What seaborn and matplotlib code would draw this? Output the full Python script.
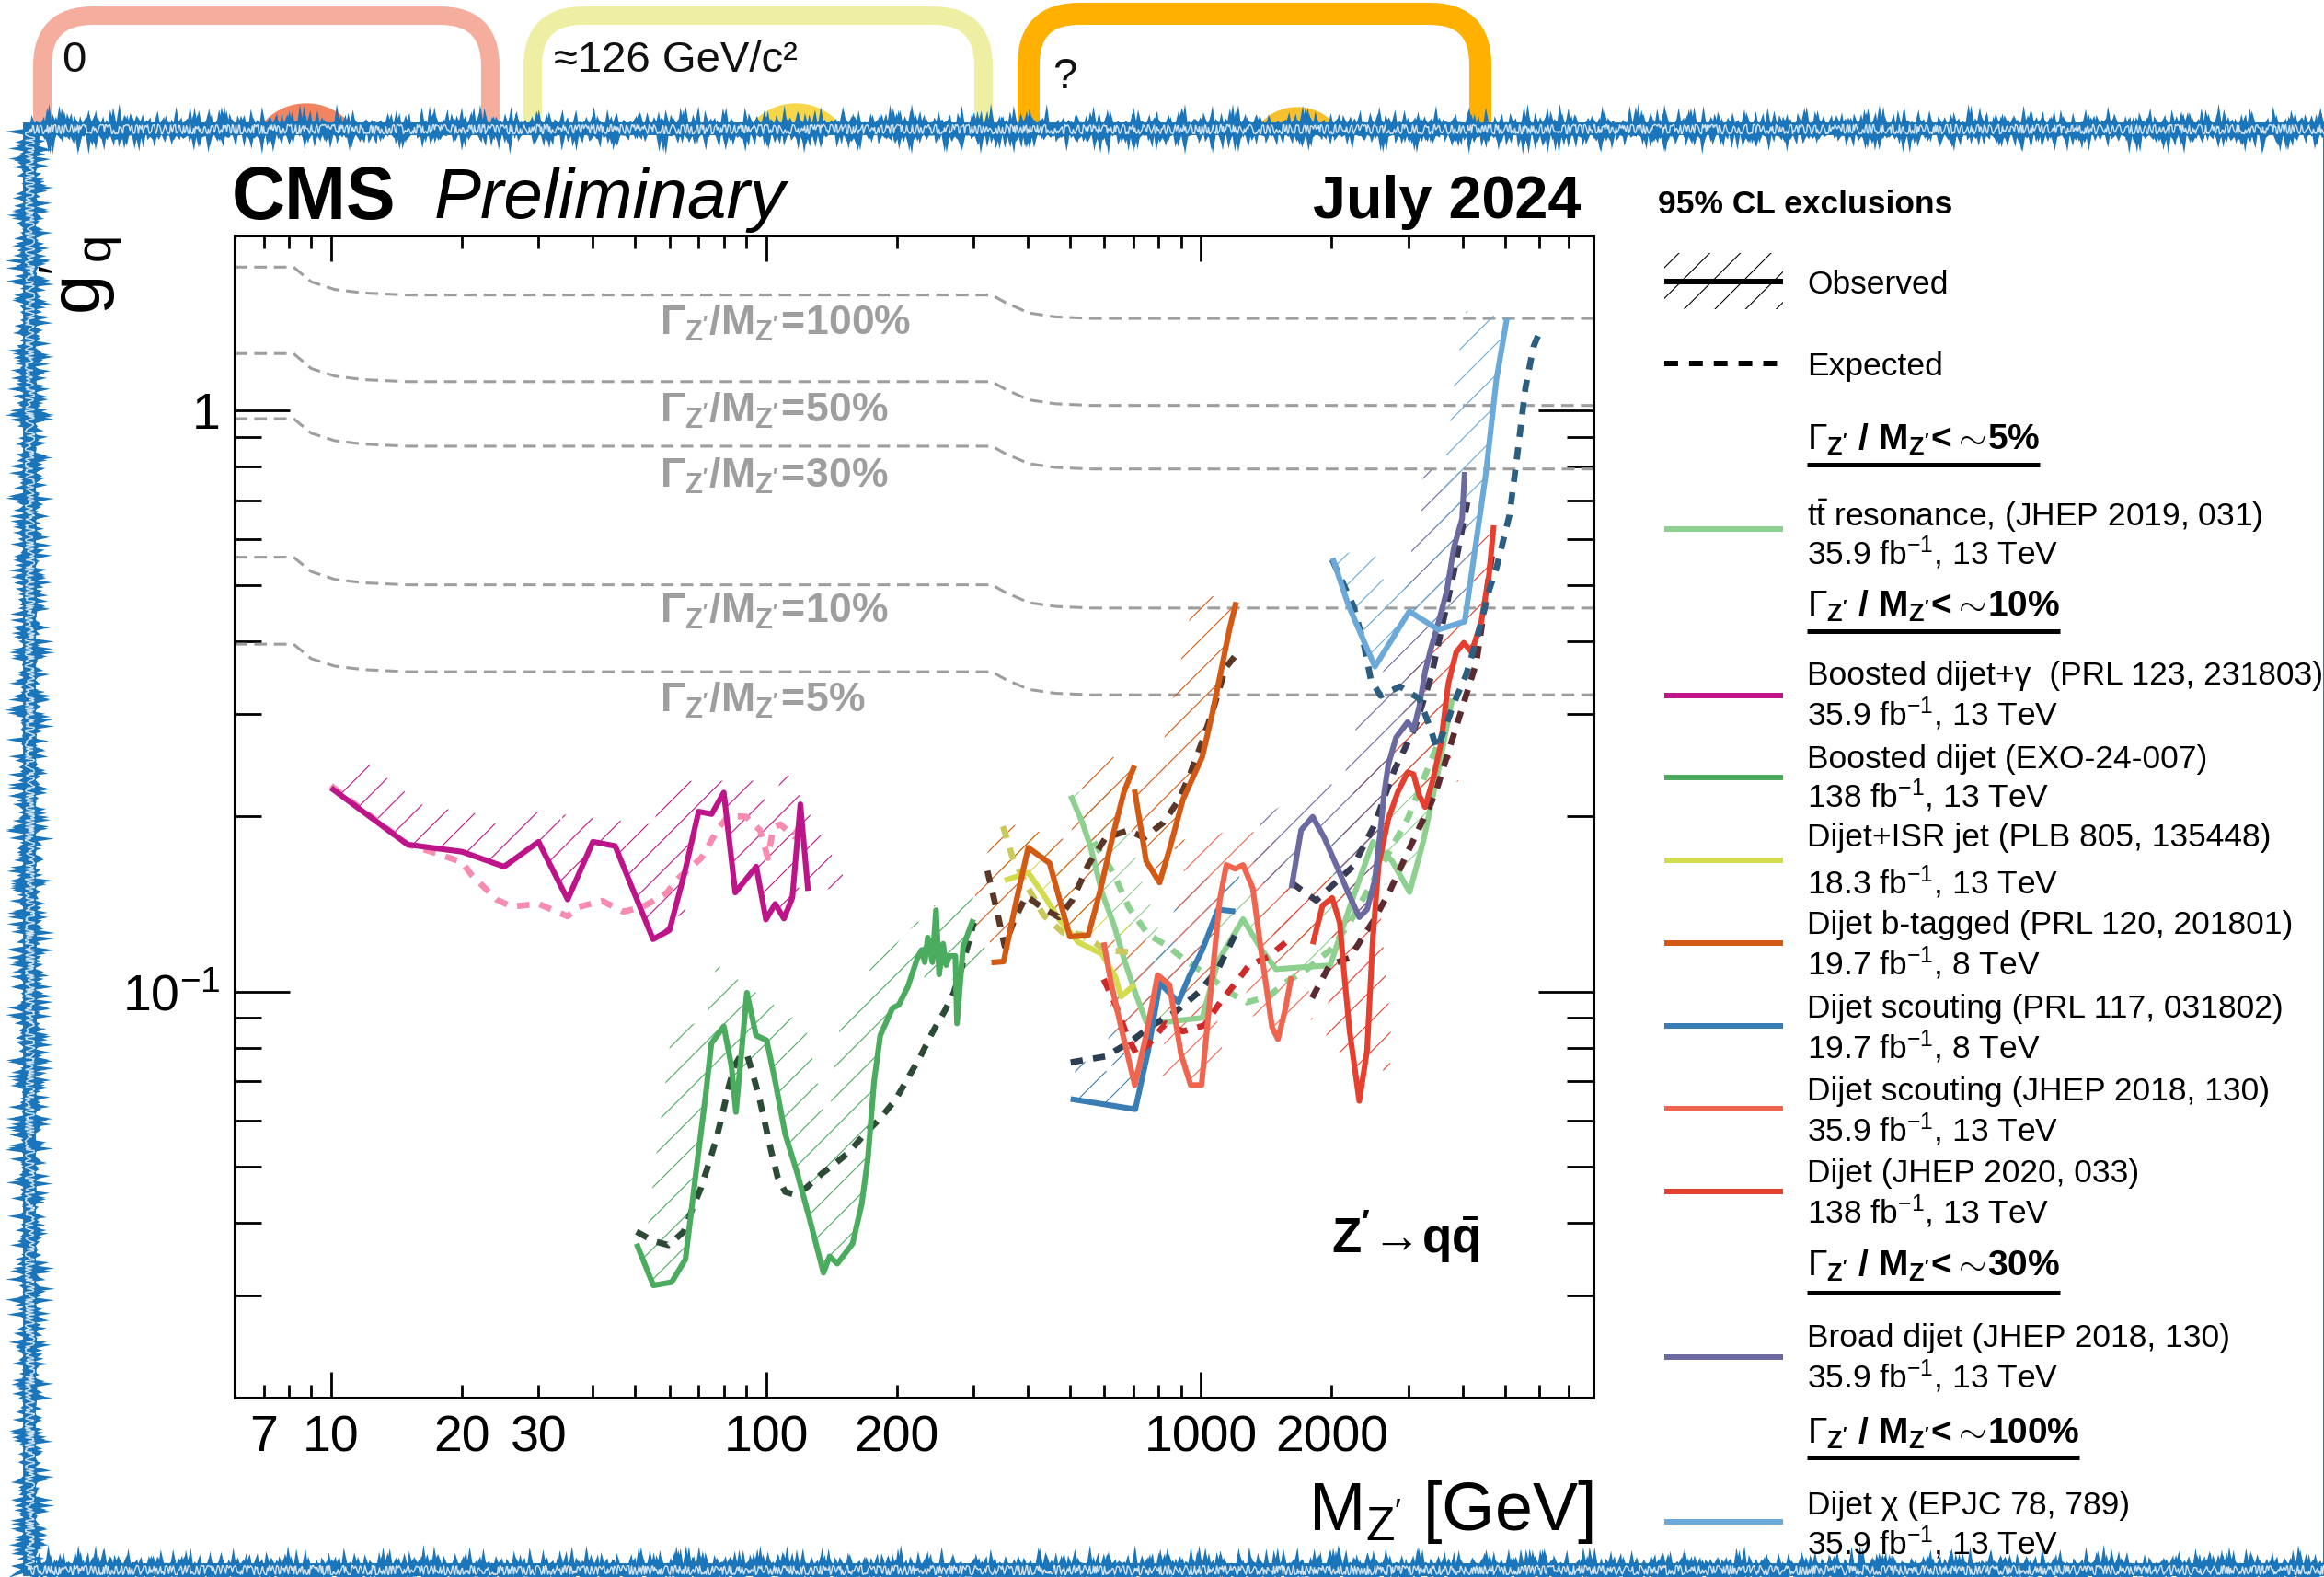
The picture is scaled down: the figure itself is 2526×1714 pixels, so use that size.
import numpy as np
import matplotlib
matplotlib.use("Agg")
import matplotlib.pyplot as plt
import matplotlib.ticker as mticker
from matplotlib.patches import Polygon, Rectangle, FancyBboxPatch, Circle
from matplotlib.transforms import IdentityTransform
import seaborn as sns

sns.set_theme(style="white", rc={"axes.edgecolor": "black", "text.color": "black",
                                 "xtick.color": "black", "ytick.color": "black"})
plt.rcParams["font.family"] = ["Liberation Sans", "DejaVu Sans"]
plt.rcParams["mathtext.fontset"] = "custom"
plt.rcParams["mathtext.rm"] = "Liberation Sans"
plt.rcParams["mathtext.it"] = "Liberation Sans:italic"
plt.rcParams["mathtext.bf"] = "Liberation Sans:bold"
plt.rcParams["hatch.linewidth"] = 0.8

# ---- data (M in GeV, g'_q) ----
width_mass = [6, 8.2, 9.0, 10.2, 11.9, 15, 331, 354, 402, 462, 560, 8000]
width_100 = [1.765, 1.765, 1.665, 1.615, 1.593, 1.58, 1.58, 1.536, 1.472, 1.449, 1.44, 1.44]
width_50 = [1.253, 1.253, 1.181, 1.146, 1.130, 1.121, 1.121, 1.089, 1.043, 1.027, 1.02, 1.02]
width_30 = [0.968, 0.968, 0.914, 0.887, 0.875, 0.868, 0.868, 0.844, 0.810, 0.798, 0.793, 0.793]
width_10 = [0.559, 0.559, 0.528, 0.512, 0.505, 0.501, 0.501, 0.487, 0.467, 0.460, 0.457, 0.457]
width_5 = [0.396, 0.396, 0.374, 0.363, 0.358, 0.355, 0.355, 0.345, 0.331, 0.326, 0.324, 0.324]
width_names = ["100%", "50%", "30%", "10%", "5%"]
width_label_g = [1.413, 1.0, 0.772, 0.4505, 0.3165]

gamma_obs_m = [10, 15, 20, 25, 30, 35, 40, 45, 55, 60, 65, 70, 75, 80, 85, 95, 100, 105, 110, 115, 120, 125]
gamma_obs_g = [0.224, 0.179, 0.174, 0.164, 0.181, 0.144, 0.181, 0.178, 0.123, 0.1275, 0.160, 0.204, 0.202,
               0.220, 0.148, 0.164, 0.133, 0.1415, 0.1335, 0.145, 0.210, 0.149]
gamma_exp_m = [10, 15, 17, 20, 21, 24, 26, 30, 35, 37, 42, 47, 52, 59, 63, 71, 78, 82, 90, 97, 101, 104,
               108, 116, 121]
gamma_exp_g = [0.226, 0.179, 0.174, 0.167, 0.159, 0.144, 0.140, 0.1415, 0.1347, 0.1397, 0.1432, 0.1372,
               0.1397, 0.1476, 0.1568, 0.1697, 0.1915, 0.2006, 0.1999, 0.1893, 0.1697, 0.1915, 0.1939,
               0.1847, 0.1963]

boosted_obs_m = [50.4, 55.1, 60.7, 65.3, 69.7, 72.6, 74.9, 80.0, 83.3, 85.3, 87.9, 90.4, 94.9, 100.4, 105.4,
                 110.7, 118.1, 126.1, 135.6, 140.1, 145.9, 158.2, 166.1, 171.6, 177.3, 183.2, 195.4, 202,
                 212, 222.6, 228.1, 231.8, 235.6, 241.4, 246.1, 250.2, 255.5, 259.7, 264.1, 272.7, 275,
                 284, 299.7]
boosted_obs_g = [0.0368, 0.0312, 0.0316, 0.0346, 0.0517, 0.0659, 0.0814, 0.0871, 0.0744, 0.0620, 0.0790,
                 0.0995, 0.0840, 0.0824, 0.0691, 0.0569, 0.0486, 0.0405, 0.0328, 0.0350, 0.0340, 0.0368,
                 0.0431, 0.0517, 0.0700, 0.0840, 0.0936, 0.0948, 0.1019, 0.1137, 0.1179, 0.1123, 0.1238,
                 0.1123, 0.138, 0.107, 0.1208, 0.111, 0.1151, 0.1151, 0.0881, 0.1193, 0.1331]
boosted_exp_m = [50.4, 55.1, 59.7, 64.7, 67.5, 70.8, 73.8, 76.8, 79.3, 82.0, 84.6, 87.5, 90.4, 92.6, 96.4,
                 99.6, 102.9, 106.3, 110.7, 116.2, 124.1, 134.5, 143.5, 155.7, 168.9, 183.2, 198.6, 212,
                 226.2, 241.4, 257.6, 270.4, 281.6, 293.3, 300.6]
boosted_exp_g = [0.0386, 0.0372, 0.0366, 0.0386, 0.0420, 0.0458, 0.0504, 0.0556, 0.0612, 0.0683, 0.0744,
                 0.0776, 0.0780, 0.0735, 0.0659, 0.0591, 0.0530, 0.0480, 0.0452, 0.0447, 0.0460, 0.0486,
                 0.0504, 0.0530, 0.0569, 0.0605, 0.0651, 0.0709, 0.0771, 0.0850, 0.0925, 0.0995, 0.1096,
                 0.1223, 0.1315]

isr_obs_m = [354, 401, 431, 472, 523, 592, 636, 656, 704]
isr_obs_g = [0.1553, 0.1601, 0.1483, 0.1332, 0.1215, 0.1161, 0.1059, 0.098, 0.1027]
isr_exp_m = [351, 369, 401, 435, 482, 534, 604, 683]
isr_exp_g = [0.1924, 0.1702, 0.1506, 0.1353, 0.1263, 0.1253, 0.1179, 0.1169]

btag_obs_m_low = [330, 352, 377, 401, 449, 500, 551, 586, 629, 666, 704]
btag_obs_g_low = [0.1122, 0.1126, 0.1438, 0.1768, 0.1663, 0.1243, 0.1249, 0.1483, 0.1866, 0.2208, 0.2447]
btag_obs_m_high = [704, 749, 804, 847, 910, 1008, 1062, 1117, 1164, 1206]
btag_obs_g_high = [0.2226, 0.1676, 0.154, 0.1755, 0.2141, 0.2534, 0.300, 0.3604, 0.4201, 0.4679]
btag_exp_m = [323, 340, 354, 373, 397, 431, 472, 507, 551, 604, 683, 741, 821, 892, 948, 1008, 1073, 1140, 1213]
btag_exp_g = [0.1613, 0.1373, 0.1197, 0.1332, 0.146, 0.1395, 0.1342, 0.1438, 0.1651, 0.1838, 0.1895,
              0.1838, 0.1954, 0.2141, 0.2384, 0.2695, 0.3093, 0.3604, 0.382]

tt_obs_m = [502, 534, 557, 592, 629, 669, 712, 749, 839, 1008, 1095, 1251, 1372, 1489, 1684, 1984, 2199,
            2487, 2756, 3021, 3246, 3525, 3786]
tt_obs_g = [0.2175, 0.1954, 0.1781, 0.1483, 0.1312, 0.1126, 0.098, 0.0887, 0.0887, 0.0901, 0.1126, 0.1332,
            0.1188, 0.1092, 0.110, 0.1109, 0.1395, 0.1809, 0.1676, 0.1483, 0.1809, 0.2421, 0.319]
tt_exp_m = [568, 629, 683, 757, 839, 929, 1051, 1164, 1276, 1429, 1584, 1755, 1984, 2199, 2437, 2700, 2991,
            3383, 3749]
tt_exp_g = [0.1809, 0.1601, 0.1395, 0.1253, 0.1197, 0.1126, 0.1059, 0.0996, 0.0958, 0.098, 0.1042, 0.1092,
            0.1179, 0.1312, 0.1506, 0.1728, 0.1983, 0.2495, 0.300]

sc8_obs_m = [502, 707, 757, 805, 888, 939, 1008, 1095, 1200]
sc8_obs_g = [0.0653, 0.0627, 0.0791, 0.1034, 0.0958, 0.1059, 0.1179, 0.1384, 0.1373]
sc8_exp_m = [502, 604, 683, 774, 874, 988, 1095, 1200]
sc8_exp_g = [0.0755, 0.0773, 0.0816, 0.0874, 0.0922, 0.0996, 0.1092, 0.1253]

sc13_obs_m = [598, 623, 656, 705, 749, 796, 847, 901, 948, 1004, 1051, 1106, 1145, 1200, 1251, 1317, 1372,
              1459, 1505, 1567, 1616]
sc13_obs_g = [0.1215, 0.1027, 0.0867, 0.0690, 0.0841, 0.1067, 0.1027, 0.0779, 0.0690, 0.0690, 0.098,
              0.1438, 0.1651, 0.1626, 0.1651, 0.1506, 0.1197, 0.0867, 0.0828, 0.0937, 0.1062]
sc13_exp_m = [598, 636, 676, 712, 757, 830, 910, 1019, 1117, 1213, 1290, 1429, 1567]
sc13_exp_g = [0.105, 0.0951, 0.0841, 0.0779, 0.0810, 0.0881, 0.0854, 0.0874, 0.0966, 0.1042, 0.1109,
              0.1147, 0.1215]

dijet_obs_m = [1809, 1905, 2005, 2088, 2132, 2199, 2315, 2412, 2487, 2564, 2700, 2841, 2991, 3084, 3180,
               3280, 3418, 3561, 3710, 3866, 4026, 4195, 4417, 4601, 4717]
dijet_obs_g = [0.1206, 0.1405, 0.1449, 0.1312, 0.1092, 0.0854, 0.0648, 0.0791, 0.1234, 0.1651, 0.1983,
               0.2208, 0.2384, 0.2366, 0.2175, 0.2077, 0.2312, 0.2655, 0.3391, 0.3834, 0.3983, 0.3834,
               0.4332, 0.5206, 0.6343]
dijet_exp_m = [1803, 1978, 2199, 2499, 2716, 2973, 3462, 3860, 4304, 4687]
dijet_exp_g = [0.0975, 0.111, 0.1143, 0.1326, 0.1485, 0.172, 0.2189, 0.2841, 0.3684, 0.5707]

broad_obs_m = [1616, 1701, 1809, 1924, 2067, 2199, 2315, 2412, 2512, 2590, 2643, 2700, 2812, 2991, 3084,
               3180, 3280, 3383, 3525, 3681, 3819, 3990, 4045]
broad_obs_g = [0.1506, 0.1895, 0.1999, 0.1838, 0.1626, 0.146, 0.1342, 0.1384, 0.1553, 0.1895, 0.2208,
               0.2458, 0.2736, 0.2909, 0.2821, 0.3093, 0.3551, 0.3893, 0.4332, 0.4898, 0.5802, 0.651, 0.7835]
broad_exp_m = [1617, 1842, 2240, 2499, 2786, 3105, 3388, 3819, 4102]
broad_exp_g = [0.1539, 0.1434, 0.1642, 0.1923, 0.2402, 0.2841, 0.3484, 0.5269, 0.695]

chi_obs_m = [2010, 2185, 2514, 3017, 3516, 4045, 4524, 4784, 5059]
chi_obs_g = [0.557, 0.4623, 0.3622, 0.451, 0.4195, 0.4331, 0.7773, 1.13, 1.442]
chi_exp_m = [2005, 2244, 2362, 2461, 2590, 2871, 3180, 3383, 3488, 3635, 3826, 4069, 4328, 4601, 4784,
             5129, 5349, 5580, 5820, 6033]
chi_exp_g = [0.5536, 0.4607, 0.4013, 0.3443, 0.3228, 0.3349, 0.319, 0.2821, 0.2614, 0.2821, 0.3142,
             0.3497, 0.4075, 0.4898, 0.5349, 0.6609, 0.8431, 1.094, 1.286, 1.373]

xtick_labels = [7, 10, 20, 30, 100, 200, 1000, 2000]
ytick_labels = {1.0: "1", 0.1: r"$10^{-1}$"}

# ---- figure / layers (pixel coordinates for decoration) ----
W, H = 2526, 1714
fig = plt.figure(figsize=(W / 100, H / 100), dpi=100)
bg = fig.add_axes([0, 0, 1, 1], zorder=0)
bg.set_xlim(0, W)
bg.set_ylim(H, 0)
bg.axis("off")

card_left = [46, 579, 1118]
card_right = [533, 1069, 1609]
card_top = [17, 17, 15]
card_colors = ["#F5AE9E", "#EFEFA4", "#FFB000"]
card_lw = [14.4, 14.4, 17.3]
card_text = ["0", "≈126 GeV/c²", "?"]
card_text_xy = [(67, 66), (602, 66), (1144, 84)]
bump_xy = [(333, 175), (865, 175), (1410, 171)]
bump_r = [62, 62, 54]
bump_colors = ["#F2845F", "#F7D64A", "#F6C02E"]
for i in range(3):
    bg.add_patch(FancyBboxPatch((card_left[i], card_top[i]), card_right[i] - card_left[i], 400,
                                boxstyle="round,pad=0,rounding_size=55", fill=False,
                                edgecolor=card_colors[i], lw=card_lw[i], zorder=1))
    bg.add_patch(Circle(bump_xy[i], bump_r[i], color=bump_colors[i], zorder=1))
    bg.text(card_text_xy[i][0], card_text_xy[i][1], card_text[i], fontsize=34, va="center", ha="left",
            color="#111111", zorder=1)

# white panel with a rough brush-like blue frame
blue = "#1B75BB"
bg.add_patch(Rectangle((32, 140), 2500, 1566, facecolor="white", edgecolor=blue, lw=10, zorder=3))
rough = Rectangle((32, 140), 2500, 1566, facecolor="none", edgecolor=blue, lw=5, zorder=3)
rough.set_sketch_params(scale=4, length=3, randomness=3)
bg.add_patch(rough)
rough2 = Rectangle((32, 140), 2500, 1566, facecolor="none", edgecolor="white", lw=1.0, alpha=0.8, zorder=3)
rough2.set_sketch_params(scale=5, length=4, randomness=5)
bg.add_patch(rough2)

# ---- main plot ----
ax = fig.add_axes([255 / W, 1 - 1519 / H, (1732 - 255) / W, (1519 - 256) / H], zorder=2)
ax.set_facecolor("none")
ax.set_xscale("log")
ax.set_yscale("log")
ax.set_xlim(6, 8000)
ax.set_ylim(0.02, 2)


def hatch_band(xs, ys, color, width=45):
    pts = ax.transData.transform(np.column_stack([xs, ys]))
    d = np.gradient(pts, axis=0)
    d = d / np.hypot(d[:, 0], d[:, 1])[:, None]
    normal = np.column_stack([-d[:, 1], d[:, 0]])
    outer = pts + width * normal
    poly = Polygon(np.vstack([pts, outer[::-1]]), closed=True, transform=IdentityTransform(),
                   facecolor="none", edgecolor=color, hatch="/", lw=0, zorder=2)
    ax.add_patch(poly)


def curve(xs, ys, color, dashed=False):
    sns.lineplot(x=xs, y=ys, ax=ax, sort=False, estimator=None, color=color,
                 lw=4.8 if dashed else 4.4, zorder=4)
    line = ax.lines[-1]
    if dashed:
        line.set_dashes((2.0, 1.7))
    line.set_solid_capstyle("butt")


gray = "#9E9E9E"
for wvals in [width_100, width_50, width_30, width_10, width_5]:
    sns.lineplot(x=width_mass, y=wvals, ax=ax, sort=False, estimator=None, color=gray, lw=2.2, zorder=1)
    ax.lines[-1].set_dashes((4.5, 2.5))
for name, gy in zip(width_names, width_label_g):
    ax.text(57, gy, r"$\mathbf{\Gamma_{Z'}/M_{Z'}\!=\!" + name.replace("%", r"\%") + "}$",
            fontsize=32, color=gray, va="center", ha="left", zorder=1)

series = [
    ([(tt_obs_m, tt_obs_g)], (tt_exp_m, tt_exp_g), "#8ED08F", "#8ED08F"),
    ([(gamma_obs_m, gamma_obs_g)], (gamma_exp_m, gamma_exp_g), "#BD1589", "#F78BB0"),
    ([(boosted_obs_m, boosted_obs_g)], (boosted_exp_m, boosted_exp_g), "#4BAB5F", "#2D4A37"),
    ([(isr_obs_m, isr_obs_g)], (isr_exp_m, isr_exp_g), "#D3DB4F", "#C9C95C"),
    ([(btag_obs_m_low, btag_obs_g_low), (btag_obs_m_high, btag_obs_g_high)], (btag_exp_m, btag_exp_g),
     "#D25A14", "#5A3828"),
    ([(sc8_obs_m, sc8_obs_g)], (sc8_exp_m, sc8_exp_g), "#3A7CB4", "#2B3E52"),
    ([(sc13_obs_m, sc13_obs_g)], (sc13_exp_m, sc13_exp_g), "#EF6550", "#CD2A2B"),
    ([(dijet_obs_m, dijet_obs_g)], (dijet_exp_m, dijet_exp_g), "#E5402F", "#5C2B30"),
    ([(broad_obs_m, broad_obs_g)], (broad_exp_m, broad_exp_g), "#6A6AA0", "#3A3A55"),
    ([(chi_obs_m, chi_obs_g)], (chi_exp_m, chi_exp_g), "#6BAAD8", "#2B5E80"),
]
for obs_parts, (em, eg), c_obs, c_exp in series:
    for om, og in obs_parts:
        hatch_band(om, og, c_obs)
for obs_parts, (em, eg), c_obs, c_exp in series:
    curve(em, eg, c_exp, dashed=True)
    for om, og in obs_parts:
        curve(om, og, c_obs)

ax.set_xlim(6, 8000)
ax.set_ylim(0.02, 2)
ax.set_xlabel("")
ax.set_ylabel("")


def xfmt(v, pos):
    for t in xtick_labels:
        if abs(v - t) < 1e-6 * t:
            return str(t)
    return ""


def yfmt(v, pos):
    for t, s in ytick_labels.items():
        if abs(v - t) < 1e-6 * t:
            return s
    return ""


ax.xaxis.set_major_locator(mticker.LogLocator(base=10, numticks=10))
ax.xaxis.set_minor_locator(mticker.LogLocator(base=10, subs=np.arange(2, 10), numticks=30))
ax.xaxis.set_major_formatter(mticker.FuncFormatter(xfmt))
ax.xaxis.set_minor_formatter(mticker.FuncFormatter(xfmt))
ax.yaxis.set_major_locator(mticker.LogLocator(base=10, numticks=10))
ax.yaxis.set_minor_locator(mticker.LogLocator(base=10, subs=np.arange(2, 10), numticks=30))
ax.yaxis.set_major_formatter(mticker.FuncFormatter(yfmt))
ax.yaxis.set_minor_formatter(mticker.NullFormatter())
ax.tick_params(axis="x", which="major", direction="in", length=20, width=2, top=True, bottom=True,
               labelsize=40, pad=13)
ax.tick_params(axis="x", which="minor", direction="in", length=10, width=2, top=True, bottom=True,
               labelsize=40, pad=13)
ax.tick_params(axis="y", which="major", direction="in", length=43, width=2, left=True, right=True,
               labelsize=40, pad=11)
ax.tick_params(axis="y", which="minor", direction="in", length=21, width=2, left=True, right=True)
for sp in ax.spines.values():
    sp.set_linewidth(2.2)
    sp.set_color("black")

ax.text(2000, 0.0355, r"$\mathbf{Z'}\!\rightarrow\!\mathbf{q\bar{q}}$", fontsize=38,
        va="baseline", ha="left")

# ---- labels, header, legend (pixel layout) ----
fg = fig.add_axes([0, 0, 1, 1], zorder=3)
fg.set_xlim(0, W)
fg.set_ylim(H, 0)
fg.axis("off")

fg.text(252, 238, "CMS", fontsize=58, fontweight="bold", va="baseline", ha="left")
fg.text(472, 237, "Preliminary", fontsize=55, fontstyle="italic", va="baseline", ha="left")
fg.text(1718, 237, "July 2024", fontsize=46.5, fontweight="bold", va="baseline", ha="right")
fg.text(88, 256, r"$\mathrm{g}'_{\mathrm{q}}$", fontsize=56, rotation=90, va="top", ha="center")
fg.text(1732, 1663, r"M$_{\rm Z'}$ [GeV]", fontsize=53, va="baseline", ha="right")

fg.text(1802, 232, "95% CL exclusions", fontsize=25.5, fontweight="bold", va="baseline", ha="left")
key_x0, key_x1, text_x = 1809, 1938, 1964
fg.add_patch(Rectangle((key_x0, 275), key_x1 - key_x0, 61, facecolor="none", edgecolor="black",
                       hatch="/", lw=0))
fg.plot([key_x0, key_x1], [306, 306], color="black", lw=4.3, solid_capstyle="butt")
fg.text(text_x, 319, "Observed", fontsize=25.5, va="baseline", ha="left")
exp_key = fg.plot([key_x0, key_x1 - 5], [395, 395], color="black", lw=4.3)[0]
exp_key.set_dashes((2.5, 2.0))
fg.text(text_x, 408, "Expected", fontsize=25.5, va="baseline", ha="left")

header_names = ["5%", "10%", "30%", "100%"]
header_base = [489, 670, 1387, 1569]
header_line = [505, 686, 1405, 1584]
header_texts = []
for name, yb in zip(header_names, header_base):
    t = fg.text(text_x, yb, r"$\Gamma_{\mathbf{Z'}}\mathbf{\ /\ M_{Z'}\!<\!\sim\!" + name.replace("%", r"\%")
                + "}$", fontsize=28, va="baseline", ha="left")
    header_texts.append(t)

entry_colors = ["#8ED08F", "#BD1589", "#4BAB5F", "#D3DB4F", "#D25A14", "#3A7CB4", "#EF6550", "#E5402F",
                "#6A6AA0", "#6BAAD8"]
entry_line1 = [r"t$\bar{\rm t}$ resonance, (JHEP 2019, 031)",
               "Boosted dijet+γ  (PRL 123, 231803)",
               "Boosted dijet (EXO-24-007)",
               "Dijet+ISR jet (PLB 805, 135448)",
               "Dijet b-tagged (PRL 120, 201801)",
               "Dijet scouting (PRL 117, 031802)",
               "Dijet scouting (JHEP 2018, 130)",
               "Dijet (JHEP 2020, 033)",
               "Broad dijet (JHEP 2018, 130)",
               "Dijet χ (EPJC 78, 789)"]
entry_line2 = [r"35.9 fb$^{-1}$, 13 TeV", r"35.9 fb$^{-1}$, 13 TeV", r"138 fb$^{-1}$, 13 TeV",
               r"18.3 fb$^{-1}$, 13 TeV", r"19.7 fb$^{-1}$, 8 TeV", r"19.7 fb$^{-1}$, 8 TeV",
               r"35.9 fb$^{-1}$, 13 TeV", r"138 fb$^{-1}$, 13 TeV", r"35.9 fb$^{-1}$, 13 TeV",
               r"35.9 fb$^{-1}$, 13 TeV"]
entry_key_y = [575, 756, 845, 935, 1025, 1115, 1205, 1295, 1475, 1654]
entry_base1 = [572, 744, 835, 920, 1015, 1106, 1196, 1285, 1464, 1646]
entry_base2 = [613, 788, 877, 971, 1059, 1150, 1240, 1329, 1508, 1689]
for c, l1, l2, ky, b1, b2 in zip(entry_colors, entry_line1, entry_line2, entry_key_y, entry_base1, entry_base2):
    fg.plot([key_x0, key_x1], [ky, ky], color=c, lw=4.3, solid_capstyle="butt")
    fg.text(text_x, b1, l1, fontsize=25.5, va="baseline", ha="left")
    fg.text(text_x, b2, l2, fontsize=25.5, va="baseline", ha="left")

fig.canvas.draw()
renderer = fig.canvas.get_renderer()
inv = fg.transData.inverted()
for t, yl in zip(header_texts, header_line):
    bb = t.get_window_extent(renderer)
    x0 = inv.transform((bb.x0, 0))[0]
    x1 = inv.transform((bb.x1, 0))[0]
    fg.plot([x0, x1], [yl, yl], color="black", lw=3.6, solid_capstyle="butt")

fig.savefig("out.png", dpi=100)
